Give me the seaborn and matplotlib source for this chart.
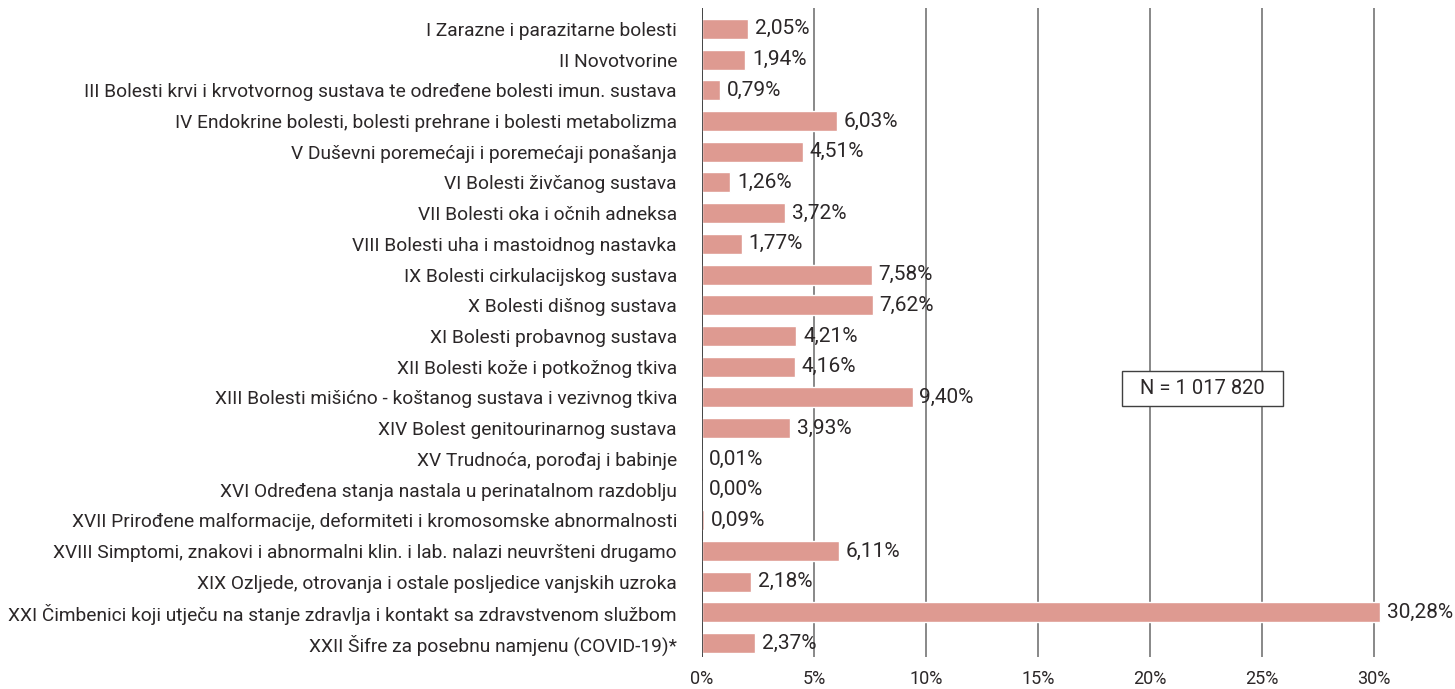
import matplotlib
matplotlib.use("Agg")
import matplotlib.pyplot as plt
import seaborn as sns
import pandas as pd

categories = [
    "I Zarazne i parazitarne bolesti",
    "II Novotvorine",
    "III Bolesti krvi i krvotvornog sustava te određene bolesti imun. sustava",
    "IV Endokrine bolesti, bolesti prehrane i bolesti metabolizma",
    "V Duševni poremećaji i poremećaji ponašanja",
    "VI Bolesti živčanog sustava",
    "VII Bolesti oka i očnih adneksa",
    "VIII Bolesti uha i mastoidnog nastavka",
    "IX Bolesti cirkulacijskog sustava",
    "X Bolesti dišnog sustava",
    "XI Bolesti probavnog sustava",
    "XII Bolesti kože i potkožnog tkiva",
    "XIII Bolesti mišićno - koštanog sustava i vezivnog tkiva",
    "XIV Bolest genitourinarnog sustava",
    "XV Trudnoća, porođaj i babinje",
    "XVI Određena stanja nastala u perinatalnom razdoblju",
    "XVII Prirođene malformacije, deformiteti i kromosomske abnormalnosti",
    "XVIII Simptomi, znakovi i abnormalni klin. i lab. nalazi neuvršteni drugamo",
    "XIX Ozljede, otrovanja i ostale posljedice vanjskih uzroka",
    "XXI Čimbenici koji utječu na stanje zdravlja i kontakt sa zdravstvenom službom",
    "XXII Šifre za posebnu namjenu (COVID-19)*",
]
shares = [2.05, 1.94, 0.79, 6.03, 4.51, 1.26, 3.72, 1.77, 7.58, 7.62, 4.21,
          4.16, 9.40, 3.93, 0.01, 0.00, 0.09, 6.11, 2.18, 30.28, 2.37]
x_ticks = [0, 5, 10, 15, 20, 25, 30]
total_note = "N = 1 017 820"

df = pd.DataFrame({"category": categories, "share": shares})

sns.set_theme(style="white")
plt.rcParams["font.family"] = ["Roboto", "DejaVu Sans"]
text_color = "#2b2728"
bar_color = "#de9a91"

fig = plt.figure(figsize=(14.55, 6.89), dpi=100)
ax = fig.add_axes([702 / 1455, 1 - 657 / 689, (1374 - 702) / 1455 / 30 * 33.5, (657 - 8) / 689])

sns.barplot(data=df, x="share", y="category", orient="h", color=bar_color,
            saturation=1, width=0.65, ax=ax, zorder=3)

ax.set_xlim(0, 33.5)
ax.set_ylim(20.45, -0.68)
ax.set_xticks(x_ticks)
ax.set_xticklabels([f"{t}%" for t in x_ticks], fontsize=13, color=text_color)
ax.tick_params(axis="y", labelsize=13.8, labelcolor=text_color, length=0, pad=18)
ax.tick_params(axis="x", length=0, pad=9)
ax.set_xlabel("")
ax.set_ylabel("")

for t in x_ticks:
    ax.axvline(t, color="#7f7f7f", lw=1.3, zorder=1)
ax.axvline(0, color="#404040", lw=1.3, zorder=4)
for s in ax.spines.values():
    s.set_visible(False)

for i, v in enumerate(shares):
    ax.text(v + 0.3, i, f"{v:.2f}%".replace(".", ","), va="center", ha="left",
            fontsize=15, color=text_color, zorder=5)

ax.text(22.35, 11.7, f"  {total_note}  ", ha="center", va="center", fontsize=14.5,
        color=text_color, zorder=6,
        bbox=dict(boxstyle="square,pad=0.4", fc="white", ec="#404040", lw=1.0))

fig.savefig("out.png", dpi=100)
